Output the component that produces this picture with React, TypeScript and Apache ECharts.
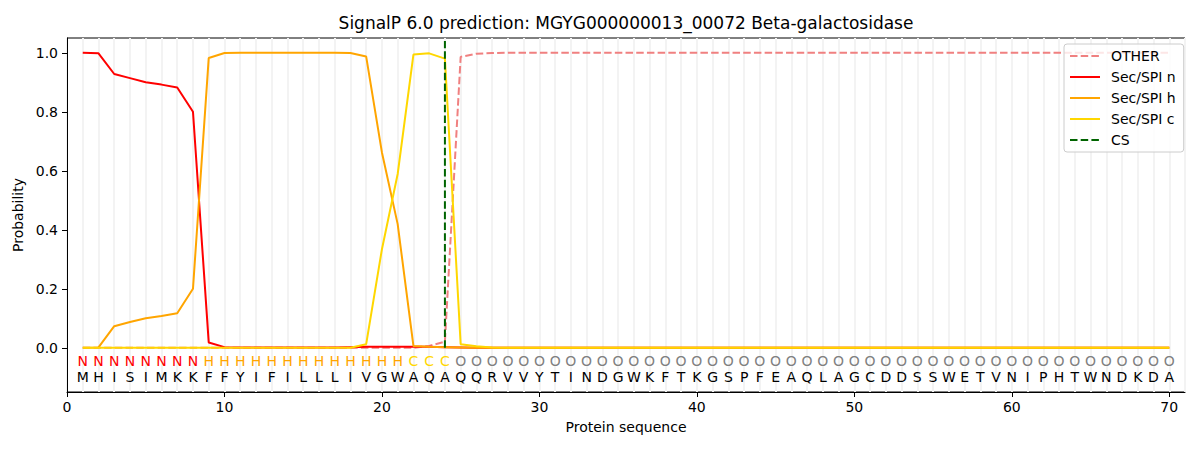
import React, { useEffect, useRef } from "react";
import * as echarts from "echarts";

const FONT = "'DejaVu Sans', sans-serif";

const sequence = "MHISIMKKFFYIFILLLIVGWAQAQQRVVYTINDGWKFTKGSPFEAQLAGCDDSSWETVNIPHTWNDKDA".split("");
const regions = "NNNNNNNNHHHHHHHHHHHHHCCCOOOOOOOOOOOOOOOOOOOOOOOOOOOOOOOOOOOOOOOOOOOOOO".split("");
const regionColors: Record<string, string> = { N: "#ff0000", H: "#ffa500", C: "#ffd700", O: "#808080" };

const otherProb = [
  0, 0, 0, 0, 0, 0, 0, 0, 0, 0,
  0, 0, 0, 0, 0, 0, 0, 0, 0, 0,
  0, 0, 0.006, 0.021, 0.986, 0.997, 0.999, 1, 1, 1,
  1, 1, 1, 1, 1, 1, 1, 1, 1, 1,
  1, 1, 1, 1, 1, 1, 1, 1, 1, 1,
  1, 1, 1, 1, 1, 1, 1, 1, 1, 1,
  1, 1, 1, 1, 1, 1, 1, 1, 1, 1,
];
const secN = [
  1.0, 0.998, 0.928, 0.914, 0.9, 0.892, 0.882, 0.8, 0.018, 0.002,
  0.001, 0.001, 0.001, 0.001, 0.001, 0.001, 0.001, 0.002, 0.003, 0.003,
  0.003, 0.003, 0.003, 0.002, 0.001, 0, 0, 0, 0, 0,
  0, 0, 0, 0, 0, 0, 0, 0, 0, 0,
  0, 0, 0, 0, 0, 0, 0, 0, 0, 0,
  0, 0, 0, 0, 0, 0, 0, 0, 0, 0,
  0, 0, 0, 0, 0, 0, 0, 0, 0, 0,
];
const secH = [
  0, 0.001, 0.073, 0.087, 0.1, 0.108, 0.117, 0.2, 0.982, 0.999,
  1, 1, 1, 1, 1, 1, 1, 0.999, 0.987, 0.662,
  0.419, 0.006, 0.003, 0.002, 0.001, 0, 0, 0, 0, 0,
  0, 0, 0, 0, 0, 0, 0, 0, 0, 0,
  0, 0, 0, 0, 0, 0, 0, 0, 0, 0,
  0, 0, 0, 0, 0, 0, 0, 0, 0, 0,
  0, 0, 0, 0, 0, 0, 0, 0, 0, 0,
];
const secC = [
  0, 0, 0, 0, 0, 0, 0, 0, 0, 0,
  0, 0, 0, 0, 0, 0, 0, 0, 0.012, 0.334,
  0.589, 0.994, 0.998, 0.98, 0.012, 0.005, 0.001, 0, 0, 0,
  0, 0, 0, 0, 0, 0, 0, 0, 0, 0,
  0, 0, 0, 0, 0, 0, 0, 0, 0, 0,
  0, 0, 0, 0, 0, 0, 0, 0, 0, 0,
  0, 0, 0, 0, 0, 0, 0, 0, 0, 0,
];
const csPosition = 24;
const csTop = 1.04;
const yTicks = [0, 0.2, 0.4, 0.6, 0.8, 1.0];
const xTicks = [0, 10, 20, 30, 40, 50, 60, 70];

const REGION_ROW_Y = -0.046;
const SEQ_ROW_Y = -0.1;

export default function App() {
  const ref = useRef<HTMLDivElement>(null);
  useEffect(() => {
    document.body.style.margin = "0";
    if (!ref.current) return;
    const chart = echarts.init(ref.current, undefined, { renderer: "svg" });
    const pos = sequence.map((_, i) => i + 1);
    const pairs = (arr: number[]) => arr.map((v, i) => [pos[i], v]);
    const lw = 2;
    const dash = [7.5, 3.2];
    chart.setOption({
      animation: false,
      textStyle: { fontFamily: FONT },
      title: {
        text: "SignalP 6.0 prediction: MGYG000000013_00072 Beta-galactosidase",
        left: 626,
        top: 14,
        padding: 0,
        textAlign: "center",
        textStyle: { fontSize: 17, fontWeight: "normal", color: "#000", fontFamily: FONT },
      },
      grid: { left: 67, right: 15, top: 38, bottom: 58, show: true, borderColor: "#000", borderWidth: 1, backgroundColor: "transparent" },
      legend: {
        orient: "vertical",
        left: 1064,
        top: 44,
        padding: [5, 8, 5, 5],
        itemGap: 7,
        itemWidth: 30,
        itemHeight: 14,
        backgroundColor: "rgba(255,255,255,0.8)",
        borderColor: "#cccccc",
        borderWidth: 1,
        borderRadius: 3,
        itemStyle: { opacity: 0 },
        data: ["OTHER", "Sec/SPI n", "Sec/SPI h", "Sec/SPI c", "CS"],
        textStyle: { fontSize: 14, color: "#000", fontFamily: FONT, padding: [0, 0, 0, 6] },
      },
      xAxis: [
        {
          type: "value",
          min: 0,
          max: 71,
          interval: 10,
          name: "Protein sequence",
          nameLocation: "middle",
          nameGap: 28,
          nameTextStyle: { fontSize: 14, color: "#000", fontFamily: FONT },
          axisLine: { onZero: false, lineStyle: { color: "#000", width: 1 } },
          axisTick: { show: true, length: 5, lineStyle: { color: "#000" }, customValues: xTicks },
          axisLabel: { fontSize: 14, color: "#000", margin: 8, fontFamily: FONT, customValues: xTicks },
          splitLine: { show: false },
        },
        {
          type: "value",
          min: 0,
          max: 71,
          interval: 1,
          position: "bottom",
          axisLine: { show: false },
          axisTick: { show: false },
          axisLabel: { show: false },
          splitLine: { show: true, lineStyle: { color: "#f3f3f3", width: 2 } },
        },
      ],
      yAxis: {
        type: "value",
        min: -0.15,
        max: 1.05,
        name: "Probability",
        nameLocation: "middle",
        nameGap: 38,
        nameTextStyle: { fontSize: 14, color: "#000", fontFamily: FONT },
        axisLine: { show: true, lineStyle: { color: "#000", width: 1 } },
        axisTick: { show: true, length: 5, lineStyle: { color: "#000" }, customValues: yTicks },
        axisLabel: {
          fontSize: 14,
          color: "#000",
          margin: 9,
          fontFamily: FONT,
          customValues: yTicks,
          formatter: (v: number) => v.toFixed(1),
        },
        splitLine: { show: false },
      },
      series: [
        {
          name: "OTHER",
          type: "line",
          data: pairs(otherProb),
          symbol: "none",
          lineStyle: { color: "#f08080", width: lw, type: dash },
          itemStyle: { color: "#f08080" },
          z: 3,
        },
        {
          name: "Sec/SPI n",
          type: "line",
          data: pairs(secN),
          symbol: "none",
          lineStyle: { color: "#ff0000", width: lw },
          itemStyle: { color: "#ff0000" },
          z: 4,
        },
        {
          name: "Sec/SPI h",
          type: "line",
          data: pairs(secH),
          symbol: "none",
          lineStyle: { color: "#ffa500", width: lw },
          itemStyle: { color: "#ffa500" },
          z: 5,
        },
        {
          name: "Sec/SPI c",
          type: "line",
          data: pairs(secC),
          symbol: "none",
          lineStyle: { color: "#ffd700", width: lw },
          itemStyle: { color: "#ffd700" },
          z: 6,
        },
        {
          name: "CS",
          type: "line",
          data: [[csPosition, 0], [csPosition, csTop]],
          symbol: "none",
          lineStyle: { color: "#006400", width: lw, type: dash },
          itemStyle: { color: "#006400" },
          z: 7,
        },
        {
          name: "regions",
          type: "custom",
          data: pos.map((p) => [p, REGION_ROW_Y]),
          renderItem: (params: any, api: any) => {
            const c = api.coord([api.value(0), api.value(1)]);
            const r = regions[params.dataIndex];
            return {
              type: "text",
              x: c[0],
              y: c[1],
              style: { text: r, fill: regionColors[r], font: `14px ${FONT}`, align: "center", verticalAlign: "middle" },
            };
          },
          z: 8,
        },
        {
          name: "sequence",
          type: "custom",
          data: pos.map((p) => [p, SEQ_ROW_Y]),
          renderItem: (params: any, api: any) => {
            const c = api.coord([api.value(0), api.value(1)]);
            return {
              type: "text",
              x: c[0],
              y: c[1],
              style: { text: sequence[params.dataIndex], fill: "#000", font: `14px ${FONT}`, align: "center", verticalAlign: "middle" },
            };
          },
          z: 8,
        },
      ],
    });
    return () => chart.dispose();
  }, []);
  return <div ref={ref} style={{ width: 1200, height: 450 }} />;
}
